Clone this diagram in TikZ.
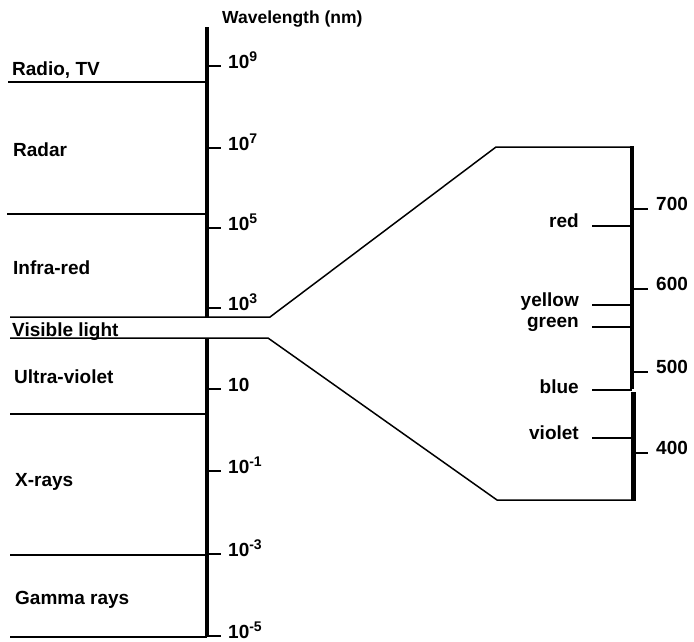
\documentclass[tikz,border=0pt]{standalone}
\usepackage{fontspec}
\setmainfont{Liberation Sans}
\newcommand{\pw}[1]{10\raisebox{6.5pt}{\fontsize{14}{14}\selectfont #1}}
\begin{document}
\begin{tikzpicture}[x=1pt,y=-1pt,
  lbl/.style={font=\fontsize{19}{21}\selectfont\bfseries, inner sep=0pt},
  thin/.style={line width=1.5pt},
  axis/.style={line width=4.2pt},
  tick/.style={line width=2.4pt}]
\useasboundingbox (0,0) rectangle (694,641);
% left axis
\draw[axis] (207,27) -- (207,317);
\draw[axis] (207,338) -- (207,637);
% left ticks and labels
\foreach \y/\e/\n in {66/9/a,148/7/b,228/5/c,308/3/d,471/-1/f,554/-3/g,636/-5/h}{
  \draw[tick] (207,\y) -- (221,\y);
  \node[lbl,anchor=base west] (t\n) at (228,\y+2) {\pw{\e}};
}
\draw[tick] (207,389) -- (221,389);
\node[lbl,anchor=base west] (te) at (228,391) {10};
\node[lbl,anchor=base west,font=\fontsize{17.5}{20}\selectfont\bfseries] (wl) at (222,23) {Wavelength (nm)};
% left band lines
\draw[thin] (8,82) -- (207,82);
\draw[thin] (7,214) -- (207,214);
\draw[thin] (10,414) -- (207,414);
\draw[thin] (10,555) -- (207,555);
\draw[thin] (10,637) -- (207,637);
% band labels
\node[lbl,anchor=base west] (radio) at (12,75) {Radio, TV};
\node[lbl,anchor=base west] (radar) at (13,156) {Radar};
\node[lbl,anchor=base west] (ir) at (13,274) {Infra-red};
\node[lbl,anchor=base west] (vis) at (12,336) {Visible light};
\node[lbl,anchor=base west] (uv) at (14,383) {Ultra-violet};
\node[lbl,anchor=base west] (xr) at (15,486) {X-rays};
\node[lbl,anchor=base west] (gr) at (15,604) {Gamma rays};
% visible expansion
\coordinate (u0) at (10,317);
\coordinate (u1) at (270,317);
\coordinate (u2) at (496,147);
\coordinate (u3) at (632,147);
\coordinate (l0) at (10,338);
\coordinate (l1) at (268,338);
\coordinate (l2) at (497,500);
\coordinate (l3) at (633,500);
\draw[thin] (u0) -- (u1) -- (u2) -- (u3);
\draw[thin] (l0) -- (l1) -- (l2) -- (l3);
% right axis
\draw[axis] (632,146) -- (632,389);
\draw[axis] (633.5,392) -- (633.5,501);
% right ticks
\foreach \y/\v/\n in {209/700/a,289/600/b,372/500/c,453/400/d}{
  \draw[tick] (633,\y) -- (648,\y);
  \node[lbl,anchor=base west] (r\n) at (656,\y+1) {\v};
}
% colour marks
\foreach \y/\b/\c in {226/227/red,305/306/yellow,327/327/green,390/393/blue,438/439/violet}{
  \draw[thin] (592,\y) -- (632,\y);
  \node[lbl,anchor=base east] (\c) at (579,\b) {\c};
}
\end{tikzpicture}
\end{document}
